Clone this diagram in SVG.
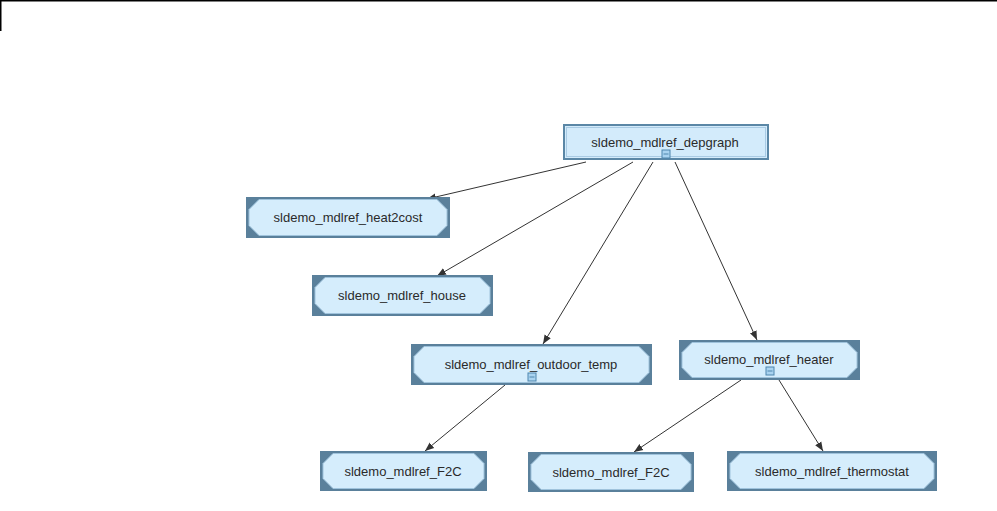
<svg xmlns="http://www.w3.org/2000/svg" width="997" height="511" viewBox="0 0 997 511">
<style>
.frame{fill:#5a809b;}
.oct{fill:#d5edfc;stroke:#9fc3dc;stroke-width:1;}
.lbl{font-family:"Liberation Sans",Arial,sans-serif;font-size:13px;fill:#2a2a2a;text-anchor:middle;}
.edge{stroke:#333;stroke-width:1;fill:none;marker-end:url(#arr);}
.icon{fill:#a9d3f0;stroke:#4f86ad;stroke-width:1;}
</style>
<defs>
<marker id="arr" viewBox="0 0 10 10" refX="10" refY="5" markerWidth="9" markerHeight="9" orient="auto" markerUnits="userSpaceOnUse">
<path d="M0,1 L10,5 L0,9 z" fill="#333"/>
</marker>
</defs>
<rect x="0" y="0" width="997" height="511" fill="#fff"/>
<g id="page-border" stroke="#000" stroke-width="1.5">
<line x1="0" y1="0.75" x2="997" y2="0.75"/>
<line x1="0.75" y1="0" x2="0.75" y2="31"/>
</g>
<g id="connectors">
<line class="edge" x1="586" y1="162" x2="427" y2="199"/>
<line class="edge" x1="633" y1="162" x2="437" y2="276"/>
<line class="edge" x1="653" y1="162" x2="543" y2="344"/>
<line class="edge" x1="675" y1="162" x2="757" y2="340"/>
<line class="edge" x1="505" y1="385" x2="425" y2="451"/>
<line class="edge" x1="741" y1="380" x2="634" y2="452"/>
<line class="edge" x1="779" y1="380" x2="823" y2="451"/>
</g>
<g id="n-depgraph">
<rect x="564" y="125" width="204" height="34" fill="#d3ebfb" stroke="#5b87a6" stroke-width="2"/>
<rect x="566.5" y="127.5" width="199" height="29" fill="none" stroke="#a9cbe4" stroke-width="1"/>
<text class="lbl" x="665" y="147">sldemo_mdlref_depgraph</text>
<rect class="icon" x="662" y="150" width="8" height="8"/>
<line x1="663.5" y1="154" x2="668.5" y2="154" stroke="#4f86ad"/>
</g>
<g id="n-heat2cost">
<rect class="frame" x="246" y="197" width="204" height="41"/>
<path class="oct" d="M259,199.5 H437 L447,209.5 V225.5 L437,235.5 H259 L249,225.5 V209.5 Z"/>
<text class="lbl" x="348" y="222">sldemo_mdlref_heat2cost</text>
</g>
<g id="n-house">
<rect class="frame" x="312" y="275" width="181" height="41"/>
<path class="oct" d="M325,277.5 H480 L490,287.5 V303.5 L480,313.5 H325 L315,303.5 V287.5 Z"/>
<text class="lbl" x="402" y="300">sldemo_mdlref_house</text>
</g>
<g id="n-outdoor">
<rect class="frame" x="411" y="344" width="241" height="41"/>
<path class="oct" d="M424,346.5 H639 L649,356.5 V372.5 L639,382.5 H424 L414,372.5 V356.5 Z"/>
<text class="lbl" x="531" y="369">sldemo_mdlref_outdoor_temp</text>
<rect class="icon" x="528" y="373" width="8" height="8"/>
<line x1="529.5" y1="377" x2="534.5" y2="377" stroke="#4f86ad"/>
</g>
<g id="n-heater">
<rect class="frame" x="679" y="340" width="181" height="40"/>
<path class="oct" d="M692,342.5 H847 L857,352.5 V367.5 L847,377.5 H692 L682,367.5 V352.5 Z"/>
<text class="lbl" x="769" y="364">sldemo_mdlref_heater</text>
<rect class="icon" x="766" y="367" width="8" height="8"/>
<line x1="767.5" y1="371" x2="772.5" y2="371" stroke="#4f86ad"/>
</g>
<g id="n-f2c-a">
<rect class="frame" x="320" y="451" width="167" height="40"/>
<path class="oct" d="M333,453.5 H474 L484,463.5 V478.5 L474,488.5 H333 L323,478.5 V463.5 Z"/>
<text class="lbl" x="403" y="476">sldemo_mdlref_F2C</text>
</g>
<g id="n-f2c-b">
<rect class="frame" x="528" y="452" width="166" height="40"/>
<path class="oct" d="M541,454.5 H681 L691,464.5 V479.5 L681,489.5 H541 L531,479.5 V464.5 Z"/>
<text class="lbl" x="611" y="477">sldemo_mdlref_F2C</text>
</g>
<g id="n-thermostat">
<rect class="frame" x="727" y="451" width="210" height="40"/>
<path class="oct" d="M740,453.5 H924 L934,463.5 V478.5 L924,488.5 H740 L730,478.5 V463.5 Z"/>
<text class="lbl" x="832" y="476">sldemo_mdlref_thermostat</text>
</g>
</svg>
